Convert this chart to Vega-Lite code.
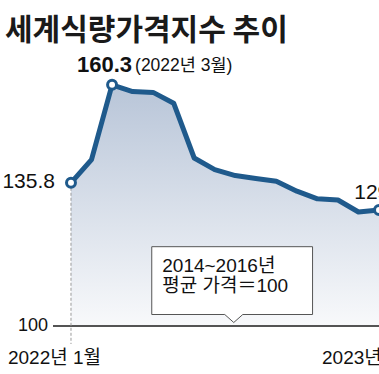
{
  "$schema": "https://vega.github.io/schema/vega-lite/v6.json",
  "width": 326,
  "height": 314,
  "padding": {"left": 53, "top": 60, "right": 0, "bottom": 0},
  "autosize": {"type": "none"},
  "background": "white",
  "title": {
    "text": "세계식량가격지수 추이",
    "anchor": "start",
    "frame": "group",
    "dx": -48,
    "dy": 35,
    "offset": 19,
    "baseline": "alphabetic",
    "font": "Noto Sans CJK KR",
    "fontSize": 30,
    "fontWeight": "bold",
    "color": "#1a1a1a"
  },
  "config": {
    "view": {"stroke": null},
    "text": {"font": "Liberation Sans, Noto Sans CJK KR", "color": "#111111"}
  },
  "data": {
    "values": [
      {"month": "2022-01", "value": 135.8},
      {"month": "2022-02", "value": 141.6},
      {"month": "2022-03", "value": 160.3},
      {"month": "2022-04", "value": 158.6},
      {"month": "2022-05", "value": 158.4},
      {"month": "2022-06", "value": 155.7},
      {"month": "2022-07", "value": 142.0},
      {"month": "2022-08", "value": 139.1},
      {"month": "2022-09", "value": 137.6},
      {"month": "2022-10", "value": 136.9},
      {"month": "2022-11", "value": 136.2},
      {"month": "2022-12", "value": 133.7},
      {"month": "2023-01", "value": 131.8},
      {"month": "2023-02", "value": 131.5},
      {"month": "2023-03", "value": 128.5},
      {"month": "2023-04", "value": 129.0}
    ]
  },
  "encoding": {
    "x": {"field": "month", "type": "ordinal", "scale": {"type": "point", "padding": 0.438, "align": 1}, "axis": null}
  },
  "layer": [
    {
      "mark": {
        "type": "area",
        "color": {
          "gradient": "linear",
          "x1": 0, "y1": 1, "x2": 0, "y2": 0,
          "stops": [
            {"offset": 0, "color": "#f8f9fb"},
            {"offset": 1, "color": "#b8c5d8"}
          ]
        }
      },
      "encoding": {
        "y": {"field": "value", "type": "quantitative", "scale": {"domain": [88, 166.5], "zero": false, "nice": false}, "axis": null},
        "y2": {"datum": 100}
      }
    },
    {
      "mark": {"type": "rule", "color": "#555555", "strokeWidth": 1},
      "encoding": {
        "x": null,
        "y": {"datum": 100, "type": "quantitative", "scale": {"domain": [88, 166.5], "zero": false, "nice": false}}
      }
    },
    {
      "transform": [{"filter": "datum.month == '2022-01'"}],
      "mark": {"type": "rule", "color": "#9a9a9a", "strokeWidth": 1, "strokeDash": [3, 2]},
      "encoding": {
        "y": {"field": "value", "type": "quantitative", "scale": {"domain": [88, 166.5], "zero": false, "nice": false}},
        "y2": {"datum": 95.5}
      }
    },
    {
      "mark": {"type": "line", "color": "#1f5a8c", "strokeWidth": 5, "strokeJoin": "round"},
      "encoding": {
        "y": {"field": "value", "type": "quantitative", "scale": {"domain": [88, 166.5], "zero": false, "nice": false}}
      }
    },
    {
      "data": {"values": [{"month": "2022-09", "base": 100, "line1": "2014~2016년", "line2": "평균 가격＝100"}]},
      "mark": {
        "type": "point",
        "shape": "M-0.835,-0.793 L0.773,-0.793 L0.773,-0.115 L0.075,-0.115 L-0.015,-0.035 L-0.105,-0.115 L-0.835,-0.115 Z",
        "size": 40000,
        "filled": true,
        "fill": "white",
        "fillOpacity": 1,
        "stroke": "#555555",
        "strokeWidth": 1,
        "opacity": 1
      },
      "encoding": {
        "y": {"field": "base", "type": "quantitative", "scale": {"domain": [88, 166.5], "zero": false, "nice": false}}
      }
    },
    {
      "data": {"values": [{"month": "2022-09", "base": 100, "line1": "2014~2016년", "line2": "평균 가격＝100"}]},
      "mark": {"type": "text", "align": "left", "baseline": "alphabetic", "dx": -73, "dy": -54, "fontSize": 19},
      "encoding": {
        "y": {"field": "base", "type": "quantitative", "scale": {"domain": [88, 166.5], "zero": false, "nice": false}},
        "text": {"field": "line1"}
      }
    },
    {
      "data": {"values": [{"month": "2022-09", "base": 100, "line1": "2014~2016년", "line2": "평균 가격＝100"}]},
      "mark": {"type": "text", "align": "left", "baseline": "alphabetic", "dx": -73, "dy": -34, "fontSize": 19},
      "encoding": {
        "y": {"field": "base", "type": "quantitative", "scale": {"domain": [88, 166.5], "zero": false, "nice": false}},
        "text": {"field": "line2"}
      }
    },
    {
      "transform": [{"filter": "datum.month == '2022-01' || datum.month == '2022-03' || datum.month == '2023-04'"}],
      "mark": {"type": "point", "filled": true, "fill": "white", "stroke": "#1f5a8c", "strokeWidth": 3, "size": 80, "opacity": 1},
      "encoding": {
        "y": {"field": "value", "type": "quantitative", "scale": {"domain": [88, 166.5], "zero": false, "nice": false}}
      }
    },
    {
      "transform": [{"filter": "datum.month == '2022-01'"}],
      "mark": {"type": "text", "align": "right", "baseline": "middle", "dx": -16, "dy": -1, "fontSize": 21},
      "encoding": {
        "y": {"field": "value", "type": "quantitative", "scale": {"domain": [88, 166.5], "zero": false, "nice": false}},
        "text": {"field": "value", "type": "quantitative", "format": ".1f"}
      }
    },
    {
      "transform": [{"filter": "datum.month == '2022-03'"}],
      "mark": {"type": "text", "align": "left", "baseline": "middle", "dx": -35, "dy": -20, "fontSize": 22, "fontWeight": "bold"},
      "encoding": {
        "y": {"field": "value", "type": "quantitative", "scale": {"domain": [88, 166.5], "zero": false, "nice": false}},
        "text": {"field": "value", "type": "quantitative", "format": ".1f"}
      }
    },
    {
      "transform": [{"filter": "datum.month == '2022-03'"}],
      "mark": {"type": "text", "align": "left", "baseline": "middle", "dx": 23, "dy": -19, "fontSize": 17.5},
      "encoding": {
        "y": {"field": "value", "type": "quantitative", "scale": {"domain": [88, 166.5], "zero": false, "nice": false}},
        "text": {"value": "(2022년 3월)"}
      }
    },
    {
      "transform": [{"filter": "datum.month == '2023-04'"}],
      "mark": {"type": "text", "align": "center", "baseline": "middle", "dx": 1.5, "dy": -17, "fontSize": 21},
      "encoding": {
        "y": {"field": "value", "type": "quantitative", "scale": {"domain": [88, 166.5], "zero": false, "nice": false}},
        "text": {"field": "value", "type": "quantitative", "format": ".1f"}
      }
    },
    {
      "transform": [{"filter": "datum.month == '2022-01'"}],
      "mark": {"type": "text", "align": "right", "baseline": "middle", "dx": -23, "fontSize": 18},
      "encoding": {
        "y": {"datum": 100, "type": "quantitative", "scale": {"domain": [88, 166.5], "zero": false, "nice": false}},
        "text": {"value": "100"}
      }
    },
    {
      "transform": [{"filter": "datum.month == '2022-01'"}],
      "mark": {"type": "text", "align": "left", "baseline": "middle", "dx": -63, "dy": 32, "fontSize": 19},
      "encoding": {
        "y": {"datum": 100, "type": "quantitative", "scale": {"domain": [88, 166.5], "zero": false, "nice": false}},
        "text": {"value": "2022년 1월"}
      }
    },
    {
      "transform": [{"filter": "datum.month == '2023-04'"}],
      "mark": {"type": "text", "align": "left", "baseline": "middle", "dx": -57, "dy": 32, "fontSize": 19},
      "encoding": {
        "y": {"datum": 100, "type": "quantitative", "scale": {"domain": [88, 166.5], "zero": false, "nice": false}},
        "text": {"value": "2023년 4월"}
      }
    }
  ]
}
